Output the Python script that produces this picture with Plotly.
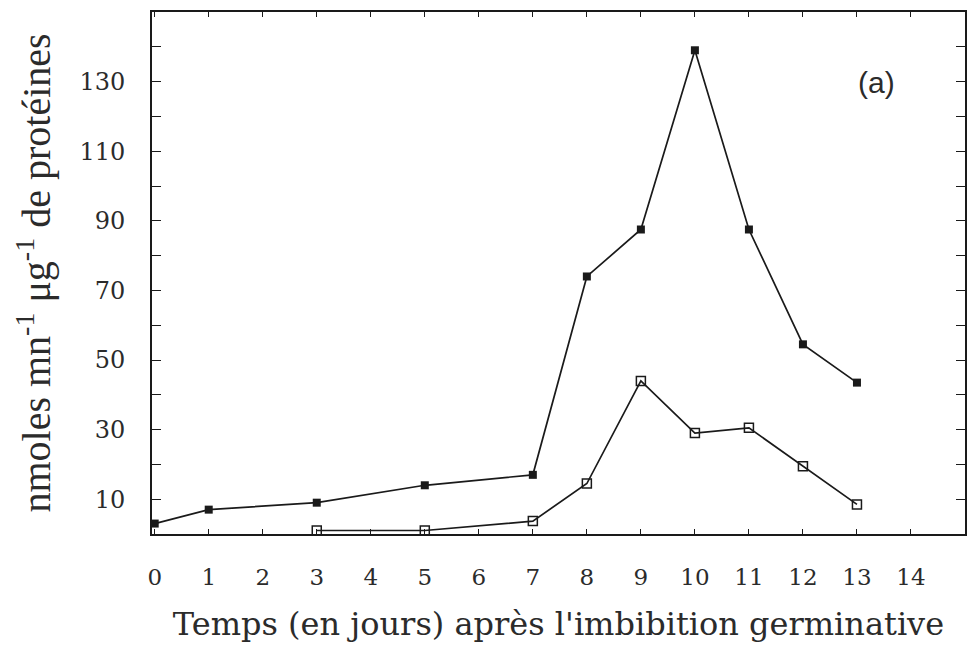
import plotly.graph_objects as go

# Enzyme activity (nmoles mn-1 µg-1 of protein) against days after imbibition
days_filled = [0, 1, 3, 5, 7, 8, 9, 10, 11, 12, 13]
activity_filled = [3, 7, 9, 14, 17, 74, 87.5, 139, 87.5, 54.5, 43.5]

days_open = [3, 5, 7, 8, 9, 10, 11, 12, 13]
activity_open = [1, 1, 3.7, 14.5, 44, 29, 30.5, 19.5, 8.5]

x_ticks = list(range(0, 15))
x_labels = [str(d) for d in x_ticks]
y_ticks = list(range(10, 140, 20))
y_labels = [str(v) for v in y_ticks]

SERIF = "DejaVu Serif"
INK = "#1a1a1a"
TEXT = "#2b2b2b"

fig = go.Figure()

fig.add_trace(go.Scatter(
    x=days_filled, y=activity_filled, mode="lines+markers",
    line=dict(color=INK, width=1.7),
    marker=dict(symbol="square", size=8, color=INK),
    showlegend=False, cliponaxis=False,
))

fig.add_trace(go.Scatter(
    x=days_open, y=activity_open, mode="lines+markers",
    line=dict(color=INK, width=1.7),
    marker=dict(symbol="square-open", size=9, color=INK, line=dict(width=1.5)),
    showlegend=False, cliponaxis=False,
))

fig.add_annotation(
    text="(a)", x=0.916, y=0.90, xref="paper", yref="paper",
    showarrow=False, font=dict(family="Liberation Sans", size=30, color=TEXT),
)

fig.update_layout(
    template="none",
    width=968, height=649,
    margin=dict(l=152, r=3, t=12, b=115),
    paper_bgcolor="white", plot_bgcolor="white",
    xaxis=dict(
        range=[-0.05, 15.0], tickvals=x_ticks, ticktext=x_labels,
        ticks="inside", ticklen=5, tickwidth=1.2, tickcolor=INK,
        showline=True, linecolor=INK, linewidth=2, mirror="ticks",
        showgrid=False, zeroline=False, automargin=False,
        tickfont=dict(family=SERIF, size=23, color=TEXT),
        ticklabelstandoff=21,
        title=dict(text="Temps (en jours) après l'imbibition germinative",
                   font=dict(family=SERIF, size=32, color=TEXT), standoff=24),
    ),
    yaxis=dict(
        range=[0, 150], tickvals=y_ticks, ticktext=y_labels,
        ticks="inside", ticklen=9, tickwidth=1.2, tickcolor=INK,
        minor=dict(dtick=10, tick0=0, ticks="inside", ticklen=9,
                   tickwidth=1.2, tickcolor=INK, showgrid=False),
        showline=True, linecolor=INK, linewidth=2, mirror="ticks",
        showgrid=False, zeroline=False, automargin=False,
        tickfont=dict(family=SERIF, size=24, color=TEXT),
        ticklabelstandoff=20,
        title=dict(text="nmoles mn<sup>-1</sup> μg<sup>-1</sup> de protéines",
                   font=dict(family="Liberation Serif", size=40, color=TEXT), standoff=16),
    ),
)

fig.write_html("out.html")
